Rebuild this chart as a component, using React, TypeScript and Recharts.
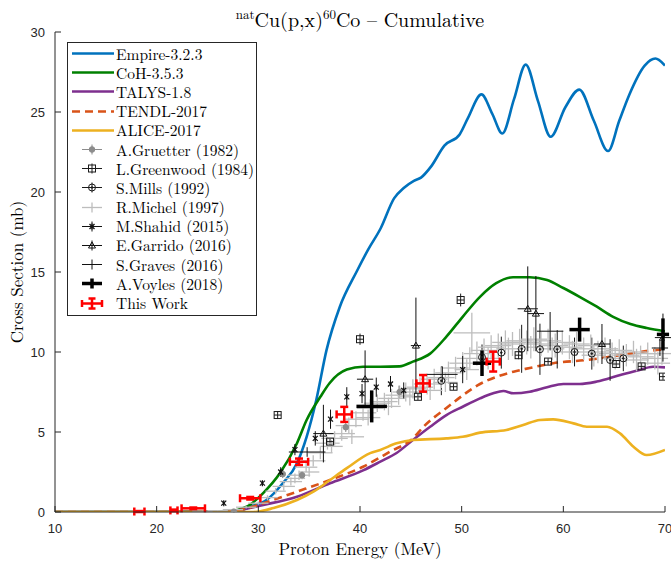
import React from "react";
import {
  ComposedChart,
  Line,
  Scatter,
  ErrorBar,
  XAxis,
  YAxis,
  Legend,
} from "recharts";

const energyTicks = [10, 20, 30, 40, 50, 60, 70];
const sectionTicks = [0, 5, 10, 15, 20, 25, 30];

// model calculations: energy (MeV) / cross section (mb)
const empireE = [10, 20, 28, 29.2, 30.8, 32.4, 33.8, 34.75, 35.7, 36.7, 38, 39.7, 40.8, 42.05, 43.35, 44.3, 45.3, 46, 47, 48.3, 49.8, 50.6, 51.95, 53, 54, 55.15, 56.3, 57.5, 58.75, 60.2, 61.57, 63, 64.4, 65.5, 66.5, 68, 69.06, 70];
const empireY = [0, 0, 0.05, 0.33, 0.75, 1.8, 3.05, 4.7, 7.0, 10.1, 12.8, 15.06, 16.4, 17.75, 19.6, 20.25, 20.7, 20.9, 21.6, 22.9, 23.6, 24.6, 26.1, 24.9, 23.66, 25.8, 27.96, 25.7, 23.45, 25.3, 26.4, 24.45, 22.56, 24.45, 26.1, 27.9, 28.34, 27.9];

const cohE = [10, 20, 27, 28.85, 30.5, 32.1, 33.8, 34.75, 36.1, 37, 38.7, 40.3, 42, 43.9, 45.2, 46.9, 48.5, 50.1, 51.8, 53.4, 55.05, 56.7, 58.4, 60, 61.6, 63.3, 64.9, 66.6, 68.2, 70];
const cohY = [0, 0, 0.05, 0.33, 1.2, 2.4, 4.3, 5.75, 7.2, 8.05, 8.9, 9.08, 9.08, 9.1, 9.4, 9.9, 10.96, 12.2, 13.45, 14.3, 14.67, 14.67, 14.5, 14.0, 13.45, 12.83, 12.2, 11.75, 11.5, 11.3];

const talysE = [10, 20, 27, 28.2, 30.5, 33.8, 37.05, 40.3, 42, 43.6, 45.2, 46.9, 48.5, 50.1, 51.8, 53.1, 54.1, 55.1, 56.7, 58.4, 60, 61.6, 63.3, 65.6, 67.2, 68.85, 70];
const talysY = [0, 0, 0.02, 0.12, 0.44, 0.96, 1.8, 2.6, 3.15, 3.69, 4.5, 5.33, 6.06, 6.58, 7.1, 7.42, 7.56, 7.42, 7.52, 7.8, 8.0, 8.0, 8.15, 8.56, 8.83, 9.08, 9.04];

const tendlE = [10, 20, 27, 28.2, 30.5, 33.8, 37.05, 40.3, 42.95, 45.2, 46.2, 48.5, 51.8, 55.1, 56.7, 59, 62.3, 65.6, 68.8, 70];
const tendlY = [0, 0, 0.02, 0.12, 0.55, 1.27, 2.0, 2.83, 3.77, 4.6, 5.3, 6.5, 8.0, 8.77, 9.0, 9.3, 9.5, 9.8, 10.1, 10.15];

const aliceE = [10, 20, 28, 29.5, 31.5, 33.8, 35.5, 37.05, 38.7, 41, 42, 43.6, 45.2, 48.5, 50.1, 51.8, 54.4, 56.05, 57.7, 59, 61, 62.3, 64.3, 65.6, 66.9, 68.2, 70];
const aliceY = [0, 0, 0, 0, 0.25, 0.75, 1.3, 2.0, 2.74, 3.68, 3.88, 4.29, 4.5, 4.6, 4.7, 4.96, 5.13, 5.44, 5.75, 5.79, 5.54, 5.33, 5.33, 4.9, 4.08, 3.56, 3.88];

// measurements: [energy, cross section, energy error, cross section error]
const gruetter = [[27.6, 0.02, 0, 0.05], [32.4, 2.37, 0, 0.25], [34.3, 2.3, 0, 0.25], [38.6, 5.3, 0, 0.3], [43.9, 7.5, 0, 0.4]];
const greenwood = [[31.9, 6.06, 0, 0.25], [40.0, 10.8, 0, 0.35], [49.9, 13.25, 0, 0.4], [37.05, 4.4, 0, 0.2], [45.7, 7.2, 0, 0.2], [49.2, 7.83, 0, 0.2], [55.6, 9.8, 0, 0.25], [58.5, 9.4, 0, 0.2], [65.2, 9.25, 0, 0.2], [67.7, 9.1, 0, 0.2], [69.8, 8.46, 0, 0.2]];
const mills = [[48.0, 8.2, 0, 0.9], [52.0, 9.67, 0, 0.8], [53.9, 9.96, 0, 1.0], [55.9, 10.2, 0, 1.5], [57.7, 10.17, 0, 1.6], [59.4, 10.17, 0, 1.2], [61.1, 10.0, 0, 0.9], [62.8, 9.9, 0, 1.0], [64.6, 9.5, 0, 1.3], [65.9, 9.6, 0, 0.8]];
const michel = [
  [24.5, 0.05, 1.0, 0.03], [26.0, 0.08, 1.0, 0.03], [27.5, 0.15, 1.0, 0.05], [28.8, 0.3, 1.0, 0.08],
  [30.0, 0.55, 1.0, 0.1], [30.9, 0.9, 1.0, 0.15], [31.7, 1.3, 1.0, 0.2], [32.5, 1.6, 1.1, 0.25],
  [33.2, 1.9, 1.1, 0.25], [34.0, 2.3, 1.1, 0.3], [34.7, 2.8, 1.1, 0.3], [35.4, 3.2, 1.2, 0.35],
  [36.1, 3.7, 1.2, 0.4], [36.8, 4.3, 1.2, 0.4], [37.5, 4.6, 1.3, 0.45], [38.2, 4.9, 1.3, 0.45],
  [38.9, 5.4, 1.3, 0.5], [39.6, 5.8, 1.3, 0.5], [40.3, 6.2, 1.3, 0.5], [41.0, 6.5, 1.3, 0.55],
  [41.7, 6.8, 1.3, 0.55], [42.4, 6.9, 1.3, 0.55], [43.1, 7.1, 1.3, 0.6], [43.8, 7.3, 1.3, 0.6],
  [44.5, 7.5, 1.3, 0.6], [45.2, 7.7, 1.3, 0.6], [45.9, 7.8, 1.3, 0.6], [46.6, 8.0, 1.3, 0.65],
  [47.3, 8.3, 1.3, 0.65], [48.0, 8.4, 1.3, 0.65], [48.7, 8.7, 1.3, 0.7], [49.4, 9.0, 1.3, 0.7],
  [50.1, 9.3, 1.3, 0.7], [50.8, 9.6, 1.3, 0.7], [51.5, 9.9, 1.3, 0.75], [52.2, 10.1, 1.3, 0.75],
  [52.9, 10.3, 1.3, 0.75], [53.6, 10.4, 1.3, 0.75], [54.3, 10.6, 1.3, 0.75], [55.0, 10.5, 1.3, 0.75],
  [55.7, 10.7, 1.3, 0.75], [56.4, 10.6, 1.3, 0.75], [57.1, 10.8, 1.3, 0.75], [57.8, 10.5, 1.3, 0.75],
  [58.5, 10.7, 1.3, 0.75], [59.2, 10.4, 1.3, 0.75], [59.9, 10.6, 1.3, 0.75], [60.6, 10.3, 1.3, 0.75],
  [61.3, 10.5, 1.3, 0.75], [62.0, 10.2, 1.3, 0.7], [62.7, 10.4, 1.3, 0.7], [63.4, 10.0, 1.3, 0.7],
  [64.1, 10.2, 1.3, 0.7], [64.8, 9.9, 1.3, 0.7], [65.5, 10.1, 1.3, 0.7], [66.2, 9.8, 1.3, 0.7],
  [66.9, 10.0, 1.3, 0.7], [67.6, 9.7, 1.3, 0.7], [68.3, 9.9, 1.3, 0.7], [69.0, 9.6, 1.3, 0.7],
  [69.7, 9.9, 1.3, 0.7],
  [33.6, 2.1, 1.0, 0.3], [35.0, 2.5, 1.0, 0.3], [37.2, 4.1, 1.1, 0.4], [39.2, 4.7, 1.2, 0.45],
  [40.8, 5.9, 1.2, 0.5], [42.8, 6.6, 1.2, 0.55], [44.9, 7.2, 1.2, 0.55], [46.9, 7.6, 1.2, 0.6],
  [48.4, 8.1, 1.2, 0.6], [50.5, 8.9, 1.2, 0.65], [52.6, 9.6, 1.2, 0.7], [54.6, 10.2, 1.2, 0.7],
  [56.8, 10.3, 1.2, 0.7], [58.9, 10.2, 1.2, 0.7], [60.9, 10.0, 1.2, 0.7], [63.0, 9.8, 1.2, 0.7],
  [65.1, 9.6, 1.2, 0.7], [67.2, 9.5, 1.2, 0.7], [69.3, 9.3, 1.2, 0.7],
  [51.0, 11.2, 1.8, 1.25],
];
const shahid = [[26.6, 0.55, 0, 0.1], [30.4, 1.8, 0, 0.15], [32.2, 2.5, 0, 0.3], [33.6, 3.9, 0, 0.35], [35.6, 4.6, 0, 0.45], [37.1, 5.8, 0, 0.6], [38.7, 7.2, 0, 0.6], [40.2, 7.4, 0, 0.6], [41.6, 7.8, 0, 0.6], [43.0, 8.0, 0, 0.5], [44.3, 7.6, 0, 0.5], [50.1, 8.9, 0, 0.85]];
const garrido = [[36.4, 4.9, 1.0, 1.8], [40.5, 8.3, 0.8, 1.8], [45.5, 10.4, 0.5, 3.0], [56.5, 12.7, 1.0, 2.65], [57.3, 12.4, 0.8, 2.35], [63.8, 10.5, 0.8, 1.25], [69.8, 10.9, 0.8, 1.5]];
const graves = [[34.8, 3.75, 1.8, 0.3], [48.1, 8.6, 1.5, 0.5], [58.7, 11.3, 1.3, 1.2], [69.5, 10.25, 0.8, 0.5]];
const voyles = [[41.15, 6.6, 1.5, 1.0], [52.0, 9.3, 0.9, 0.8], [61.6, 11.4, 1.0, 0.75], [69.8, 11.1, 0.6, 1.0]];
const thisWork = [[18.3, 0.03, 0.5, 0.03], [21.7, 0.1, 0.35, 0.05], [23.6, 0.23, 1.15, 0.05], [29.2, 0.86, 1.0, 0.08], [34.0, 3.14, 0.9, 0.2], [38.45, 6.1, 0.75, 0.47], [46.2, 8.04, 0.65, 0.52], [53.1, 9.4, 0.65, 0.62]];

const BLUE = "#0072BD";
const GREEN = "#008000";
const PURPLE = "#7E2F8E";
const ORANGE = "#D95319";
const YELLOW = "#EDB120";
const AXIS = "#262626";
const SERIF = '"Latin Modern Roman", "Liberation Serif", serif';
const SANS = '"Liberation Sans", Arial, sans-serif';

const curve = (es: number[], ys: number[]) => es.map((e, i) => ({ e, y: ys[i] }));
const points = (rows: number[][]) =>
  rows.map(([e, y, dx, dy]) => ({ e, y, ex: dx, ey: dy }));

// marker glyphs, shared by plot and legend
const glyphs: Record<string, (cx: number, cy: number) => React.ReactNode> = {
  none: () => null,
  gruetter: (cx, cy) => <circle cx={cx} cy={cy} r={2.8} fill="#8c8c8c" stroke="#8c8c8c" />,
  greenwood: (cx, cy) => (
    <g fill="none" stroke="#1a1a1a" strokeWidth={1}>
      <rect x={cx - 3.5} y={cy - 3.5} width={7} height={7} />
      <line x1={cx - 3.5} x2={cx + 3.5} y1={cy} y2={cy} />
    </g>
  ),
  mills: (cx, cy) => (
    <g stroke="#1a1a1a">
      <circle cx={cx} cy={cy} r={3.5} fill="none" strokeWidth={1} />
      <circle cx={cx} cy={cy} r={0.8} fill="#1a1a1a" />
    </g>
  ),
  shahid: (cx, cy) => (
    <g stroke="#111" strokeWidth={1.2}>
      <line x1={cx - 2.5} x2={cx + 2.5} y1={cy - 2.5} y2={cy + 2.5} />
      <line x1={cx - 2.5} x2={cx + 2.5} y1={cy + 2.5} y2={cy - 2.5} />
      <line x1={cx} x2={cx} y1={cy - 3} y2={cy + 3} />
    </g>
  ),
  garrido: (cx, cy) => (
    <polygon
      points={`${cx},${cy - 3.5} ${cx + 3.5},${cy + 2.5} ${cx - 3.5},${cy + 2.5}`}
      fill="none"
      stroke="#111"
      strokeWidth={1}
    />
  ),
};

const shapeOf = (name: string) => (p: any) => <g>{glyphs[name](p.cx, p.cy)}</g>;

const measured = [
  { name: "A.Gruetter (1982)", rows: gruetter, glyph: "gruetter", color: "#8c8c8c", width: 1, cap: 0 },
  { name: "L.Greenwood (1984)", rows: greenwood, glyph: "greenwood", color: "#1a1a1a", width: 1, cap: 0 },
  { name: "S.Mills (1992)", rows: mills, glyph: "mills", color: "#1a1a1a", width: 1, cap: 0 },
  { name: "R.Michel (1997)", rows: michel, glyph: "none", color: "#bdbdbd", width: 1.3, cap: 0 },
  { name: "M.Shahid (2015)", rows: shahid, glyph: "shahid", color: "#111", width: 1, cap: 0 },
  { name: "E.Garrido (2016)", rows: garrido, glyph: "garrido", color: "#111", width: 1, cap: 0 },
  { name: "S.Graves (2016)", rows: graves, glyph: "none", color: "#111", width: 1, cap: 0 },
  { name: "A.Voyles (2018)", rows: voyles, glyph: "none", color: "#000", width: 3.5, cap: 0 },
  { name: "This Work", rows: thisWork, glyph: "none", color: "#ff0000", width: 2.5, cap: 4 },
];

const models = [
  { name: "Empire-3.2.3", data: curve(empireE, empireY), color: BLUE, dash: undefined },
  { name: "CoH-3.5.3", data: curve(cohE, cohY), color: GREEN, dash: undefined },
  { name: "TALYS-1.8", data: curve(talysE, talysY), color: PURPLE, dash: undefined },
  { name: "TENDL-2017", data: curve(tendlE, tendlY), color: ORANGE, dash: "8 5" },
  { name: "ALICE-2017", data: curve(aliceE, aliceY), color: YELLOW, dash: undefined },
];

const ROW = 19.2;
const rowStyle: React.CSSProperties = {
  display: "flex",
  alignItems: "center",
  height: ROW,
  whiteSpace: "nowrap",
};
const labelStyle: React.CSSProperties = { lineHeight: "16px", fontFamily: SERIF };

function LegendBox() {
  return (
    <div
      style={{
        boxSizing: "border-box",
        border: `1px solid ${AXIS}`,
        background: "#fff",
        width: 190,
        padding: "1px 0 2px 0",
        fontFamily: SERIF,
        fontSize: 15.5,
        color: "#000",
      }}
    >
      {models.map((m) => (
        <div key={m.name} style={rowStyle}>
          <svg width={48} height={19}>
            <line x1={4} x2={46} y1={9.5} y2={9.5} stroke={m.color} strokeWidth={2.6} strokeDasharray={m.dash} />
          </svg>
          <span style={labelStyle}>{m.name}</span>
        </div>
      ))}
      {measured.map((d) => (
        <div key={d.name} style={rowStyle}>
          <svg width={48} height={19}>
            <g stroke={d.color} strokeWidth={d.width}>
              <line x1={14} x2={34} y1={9.5} y2={9.5} />
              <line x1={24} x2={24} y1={4.5} y2={14.5} />
              {d.cap > 0 && (
                <>
                  <line x1={14} x2={14} y1={6} y2={13} />
                  <line x1={34} x2={34} y1={6} y2={13} />
                  <line x1={20.5} x2={27.5} y1={4.5} y2={4.5} />
                  <line x1={20.5} x2={27.5} y1={14.5} y2={14.5} />
                </>
              )}
            </g>
            {glyphs[d.glyph](24, 9.5)}
          </svg>
          <span style={labelStyle}>{d.name}</span>
        </div>
      ))}
    </div>
  );
}

export default function App() {
  const tickStyle = { fontSize: 13, fill: AXIS, fontFamily: SANS };
  return (
    <div style={{ position: "relative", width: 671, height: 562, background: "#fff" }}>
      <style>{"body{margin:0}"}</style>
      <div
        style={{
          position: "absolute",
          left: 0,
          width: 720,
          top: 2,
          lineHeight: "24px",
          textAlign: "center",
          fontFamily: SERIF,
          fontSize: 20,
          color: "#000",
          zIndex: 2,
          whiteSpace: "nowrap",
        }}
      >
        <sup style={{ fontSize: 13 }}>nat</sup>Cu(p,x)<sup style={{ fontSize: 13 }}>60</sup>Co – Cumulative
      </div>
      <ComposedChart
        width={671}
        height={562}
        margin={{ top: 32, right: 6, bottom: 20, left: 0 }}
        style={{ fontFamily: SERIF }}
      >
        <XAxis
          dataKey="e"
          type="number"
          domain={[10, 70]}
          ticks={energyTicks}
          interval={0}
          allowDataOverflow
          height={30}
          tick={tickStyle}
          tickSize={-6}
          tickMargin={18}
          axisLine={{ stroke: AXIS }}
          tickLine={{ stroke: AXIS }}
          label={{
            value: "Proton Energy (MeV)",
            position: "bottom",
            offset: 1,
            fontFamily: SERIF,
            fontSize: 17,
            fill: "#000",
          }}
        />
        <XAxis
          xAxisId="top"
          orientation="top"
          type="number"
          domain={[10, 70]}
          ticks={energyTicks}
          height={0}
          tick={false}
          tickSize={-6}
          axisLine={{ stroke: AXIS }}
          tickLine={{ stroke: AXIS }}
        />
        <YAxis
          type="number"
          domain={[0, 30]}
          ticks={sectionTicks}
          interval={0}
          allowDataOverflow
          width={55}
          tick={tickStyle}
          tickSize={-6}
          tickMargin={16}
          axisLine={{ stroke: AXIS }}
          tickLine={{ stroke: AXIS }}
          label={{
            value: "Cross Section (mb)",
            angle: -90,
            position: "insideLeft",
            offset: 17,
            fontFamily: SERIF,
            fontSize: 17,
            fill: "#000",
            style: { textAnchor: "middle" },
          }}
        />
        <YAxis
          yAxisId="right"
          orientation="right"
          type="number"
          domain={[0, 30]}
          ticks={sectionTicks}
          width={0}
          tick={false}
          tickSize={-6}
          axisLine={{ stroke: AXIS }}
          tickLine={{ stroke: AXIS }}
        />
        <Legend
          layout="vertical"
          align="center"
          verticalAlign="middle"
          wrapperStyle={{ position: "absolute", left: 67, top: 42, width: "auto", fontFamily: SERIF }}
          content={() => <LegendBox />}
        />
        {models.map((m) => (
          <Line
            key={m.name}
            data={m.data}
            dataKey="y"
            type="monotone"
            stroke={m.color}
            strokeWidth={2.6}
            strokeDasharray={m.dash}
            dot={false}
            activeDot={false}
            isAnimationActive={false}
          />
        ))}
        {measured.map((d) => (
          <Scatter
            key={d.name}
            data={points(d.rows)}
            dataKey="y"
            shape={shapeOf(d.glyph)}
            isAnimationActive={false}
          >
            <ErrorBar dataKey="ex" direction="x" width={d.cap} stroke={d.color} strokeWidth={d.width} isAnimationActive={false} />
            <ErrorBar dataKey="ey" direction="y" width={d.cap} stroke={d.color} strokeWidth={d.width} isAnimationActive={false} />
          </Scatter>
        ))}
      </ComposedChart>
    </div>
  );
}
